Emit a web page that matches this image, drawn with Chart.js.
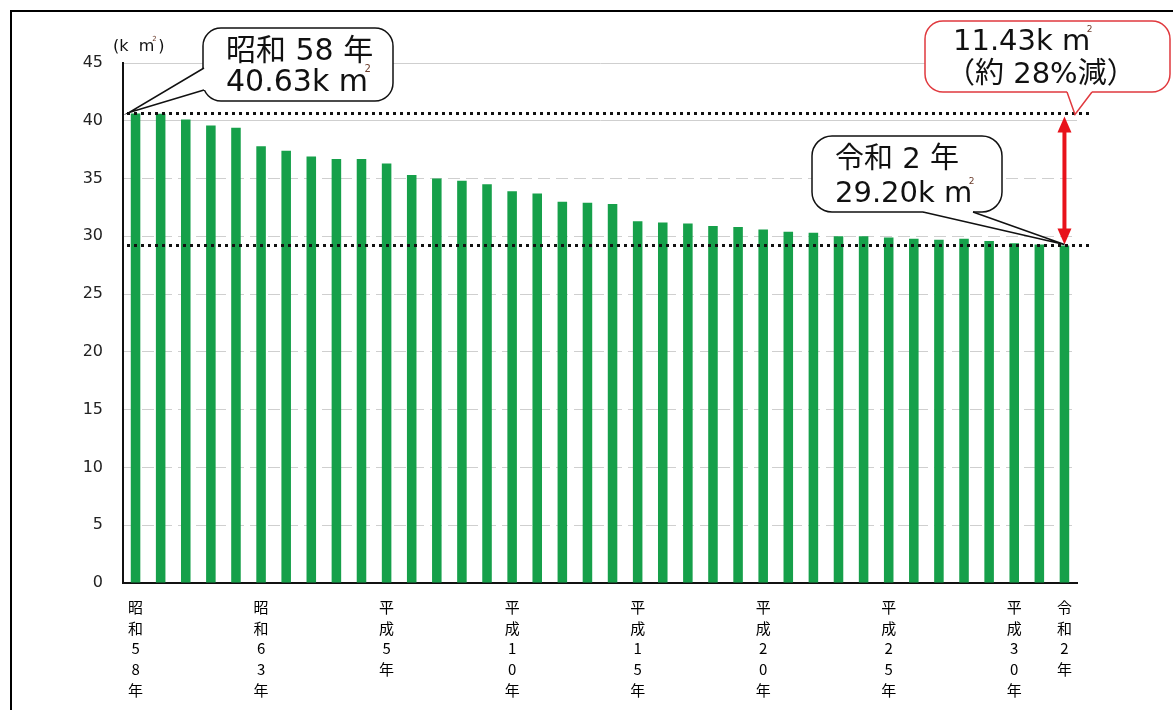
<!DOCTYPE html>
<html lang="ja">
<head>
<meta charset="utf-8">
<script src="https://cdn.jsdelivr.net/npm/chart.js@4.4.1/dist/chart.umd.min.js"></script>
<style>
  html, body { margin: 0; padding: 0; background: #fff; }
  #wrap { position: relative; width: 1173px; height: 710px; overflow: hidden; }
  #frame { position: absolute; left: 10px; top: 10px; width: 1200px; height: 720px;
           border-left: 2px solid #000; border-top: 2px solid #000; pointer-events: none; }
</style>
</head>
<body>
<div id="wrap">
  <canvas id="areaChart" width="1173" height="710"></canvas>
  <div id="frame"></div>
</div>
<script>
const categories = [
  '昭和58年', '昭和59年', '昭和60年', '昭和61年', '昭和62年', '昭和63年',
  '平成元年', '平成2年', '平成3年', '平成4年', '平成5年', '平成6年', '平成7年',
  '平成8年', '平成9年', '平成10年', '平成11年', '平成12年', '平成13年', '平成14年',
  '平成15年', '平成16年', '平成17年', '平成18年', '平成19年', '平成20年', '平成21年',
  '平成22年', '平成23年', '平成24年', '平成25年', '平成26年', '平成27年', '平成28年',
  '平成29年', '平成30年', '令和元年', '令和2年'
];

// 面積 (km2)
const areaValues = [
  40.63, 40.6, 40.1, 39.6, 39.4, 37.8,
  37.4, 36.9, 36.7, 36.7, 36.3, 35.3, 35.0,
  34.8, 34.5, 33.9, 33.7, 33.0, 32.9, 32.8,
  31.3, 31.2, 31.1, 30.9, 30.8, 30.6, 30.4,
  30.3, 30.0, 30.0, 29.9, 29.8, 29.7, 29.8,
  29.6, 29.4, 29.3, 29.20
];

const tickLabels = ['昭和58年', '昭和63年', '平成5年', '平成10年', '平成15年',
  '平成20年', '平成25年', '平成30年', '令和2年'];
const yTicks = [0, 5, 10, 15, 20, 25, 30, 35, 40, 45];

const startValue = areaValues[0];
const endValue = areaValues[areaValues.length - 1];
const diffValue = (startValue - endValue).toFixed(2);
const diffPercent = Math.round((startValue - endValue) / startValue * 100);

const LATIN = '"DejaVu Sans", "Noto Sans CJK JP", sans-serif';

// "k m" の後に小さい 2 を付ける
function drawWithSup(ctx, text, x, y, size, after) {
  ctx.font = size + 'px ' + LATIN;
  ctx.fillStyle = '#111';
  ctx.textBaseline = 'alphabetic';
  ctx.textAlign = 'left';
  ctx.fillText(text, x, y);
  const w = ctx.measureText(text).width;
  ctx.font = Math.max(7, Math.round(size * 0.32)) + 'px ' + LATIN;
  ctx.fillStyle = '#6a3b2a';
  ctx.fillText('2', x + w - size * 0.12, y - size * 0.62);
  if (after) {
    ctx.font = size + 'px ' + LATIN;
    ctx.fillStyle = '#111';
    ctx.fillText(after, x + w + size * 0.25, y);
  }
}

function callout(ctx, box, base1, base2, inset, tip, stroke) {
  ctx.save();
  ctx.lineWidth = 1.5;
  ctx.strokeStyle = stroke;
  ctx.fillStyle = '#fff';
  ctx.beginPath();
  ctx.roundRect(box.x, box.y, box.w, box.h, box.r);
  ctx.fill();
  ctx.stroke();
  ctx.beginPath();
  ctx.moveTo(base1[0], base1[1]);
  ctx.lineTo(tip[0], tip[1]);
  ctx.lineTo(base2[0], base2[1]);
  ctx.lineTo(base2[0] + inset[0], base2[1] + inset[1]);
  ctx.lineTo(base1[0] + inset[0], base1[1] + inset[1]);
  ctx.closePath();
  ctx.fill();
  ctx.beginPath();
  ctx.moveTo(base1[0], base1[1]);
  ctx.lineTo(tip[0], tip[1]);
  ctx.lineTo(base2[0], base2[1]);
  ctx.stroke();
  ctx.restore();
}

const notesPlugin = {
  id: 'notes',
  afterDatasetsDraw(chart) {
    const ctx = chart.ctx;
    const xs = chart.scales.x;
    const ys = chart.scales.y;
    const area = chart.chartArea;
    const yStart = ys.getPixelForValue(startValue);
    const yEnd = ys.getPixelForValue(endValue);
    const xLast = xs.getPixelForValue(areaValues.length - 1);

    // 点線
    ctx.save();
    ctx.strokeStyle = '#111';
    ctx.lineWidth = 3;
    ctx.setLineDash([3, 4]);
    [yStart, yEnd].forEach(y => {
      ctx.beginPath();
      ctx.moveTo(area.left + 4, y);
      ctx.lineTo(area.right + 15, y);
      ctx.stroke();
    });
    ctx.restore();

    // 赤い矢印
    ctx.save();
    ctx.strokeStyle = '#e8121b';
    ctx.fillStyle = '#e8121b';
    ctx.lineWidth = 4;
    const top = yStart + 3, bot = yEnd - 1, hl = 16, hw = 7;
    ctx.beginPath();
    ctx.moveTo(xLast, top + hl - 2);
    ctx.lineTo(xLast, bot - hl + 2);
    ctx.stroke();
    ctx.beginPath();
    ctx.moveTo(xLast, top);
    ctx.lineTo(xLast - hw, top + hl);
    ctx.lineTo(xLast + hw, top + hl);
    ctx.closePath();
    ctx.fill();
    ctx.beginPath();
    ctx.moveTo(xLast, bot);
    ctx.lineTo(xLast - hw, bot - hl);
    ctx.lineTo(xLast + hw, bot - hl);
    ctx.closePath();
    ctx.fill();
    ctx.restore();

    // 単位
    ctx.save();
    drawWithSup(ctx, '(k  m', area.left - 10, 51, 16, ')');
    ctx.restore();

    // 吹き出し 1
    callout(ctx, {x: 203, y: 28, w: 190, h: 73, r: 18},
      [204, 68], [204, 90], [4, 0], [area.left + 6, yStart - 1], '#111');
    ctx.save();
    ctx.font = '30px ' + LATIN;
    ctx.fillStyle = '#111';
    ctx.fillText('昭和 58 年', 226, 60);
    drawWithSup(ctx, startValue.toFixed(2) + 'k m', 226, 91, 30);
    ctx.restore();

    // 吹き出し 2
    callout(ctx, {x: 812, y: 136, w: 190, h: 76, r: 20},
      [923, 212], [973, 212], [0, -4], [xLast, yEnd - 1], '#111');
    ctx.save();
    ctx.font = '29px ' + LATIN;
    ctx.fillStyle = '#111';
    ctx.fillText('令和 2 年', 835, 168);
    drawWithSup(ctx, endValue.toFixed(2) + 'k m', 835, 202, 29);
    ctx.restore();

    // 吹き出し 3
    callout(ctx, {x: 925, y: 21, w: 245, h: 71, r: 18},
      [1067, 92], [1092, 92], [0, -4], [area.right - 2, yStart + 1], '#e0393e');
    ctx.save();
    drawWithSup(ctx, diffValue + 'k m', 953, 50, 29);
    ctx.font = '29px ' + LATIN;
    ctx.fillStyle = '#111';
    ctx.fillText('（約 ' + diffPercent + '%減）', 946, 83);
    ctx.restore();
  }
};

new Chart(document.getElementById('areaChart').getContext('2d'), {
  type: 'bar',
  data: {
    labels: categories,
    datasets: [{
      data: areaValues,
      backgroundColor: '#16a04a',
      borderWidth: 0,
      barPercentage: 0.38,
      categoryPercentage: 1.0
    }]
  },
  options: {
    responsive: false,
    devicePixelRatio: 1,
    animation: false,
    layout: { padding: { top: 63, right: 96, left: 0, bottom: 0 } },
    plugins: {
      legend: { display: false },
      tooltip: { enabled: false }
    },
    scales: {
      x: {
        grid: { display: false },
        border: { display: true, color: '#111', width: 2 },
        afterFit: scale => { scale.height = 127; },
        ticks: {
          autoSkip: false,
          maxRotation: 0,
          padding: 6,
          color: '#000',
          font: { family: '"Noto Sans CJK JP"', size: 15, lineHeight: 1.38 },
          callback: function(value, index) {
            const label = categories[index];
            return tickLabels.includes(label) ? Array.from(label) : '';
          }
        }
      },
      y: {
        min: 0,
        max: 45,
        afterBuildTicks: scale => { scale.ticks = yTicks.map(v => ({ value: v })); },
        afterFit: scale => { scale.width = 123; },
        grid: { color: '#cfcfcf', lineWidth: 1, drawTicks: false },
        border: {
          display: true, color: '#111', width: 2,
          dash: ctx => (ctx.tick && ctx.tick.value >= 40) ? [] : [12, 6]
        },
        ticks: {
          padding: 20,
          color: '#222',
          font: { family: '"DejaVu Sans"', size: 16 }
        }
      }
    }
  },
  plugins: [notesPlugin]
});
</script>
</body>
</html>
